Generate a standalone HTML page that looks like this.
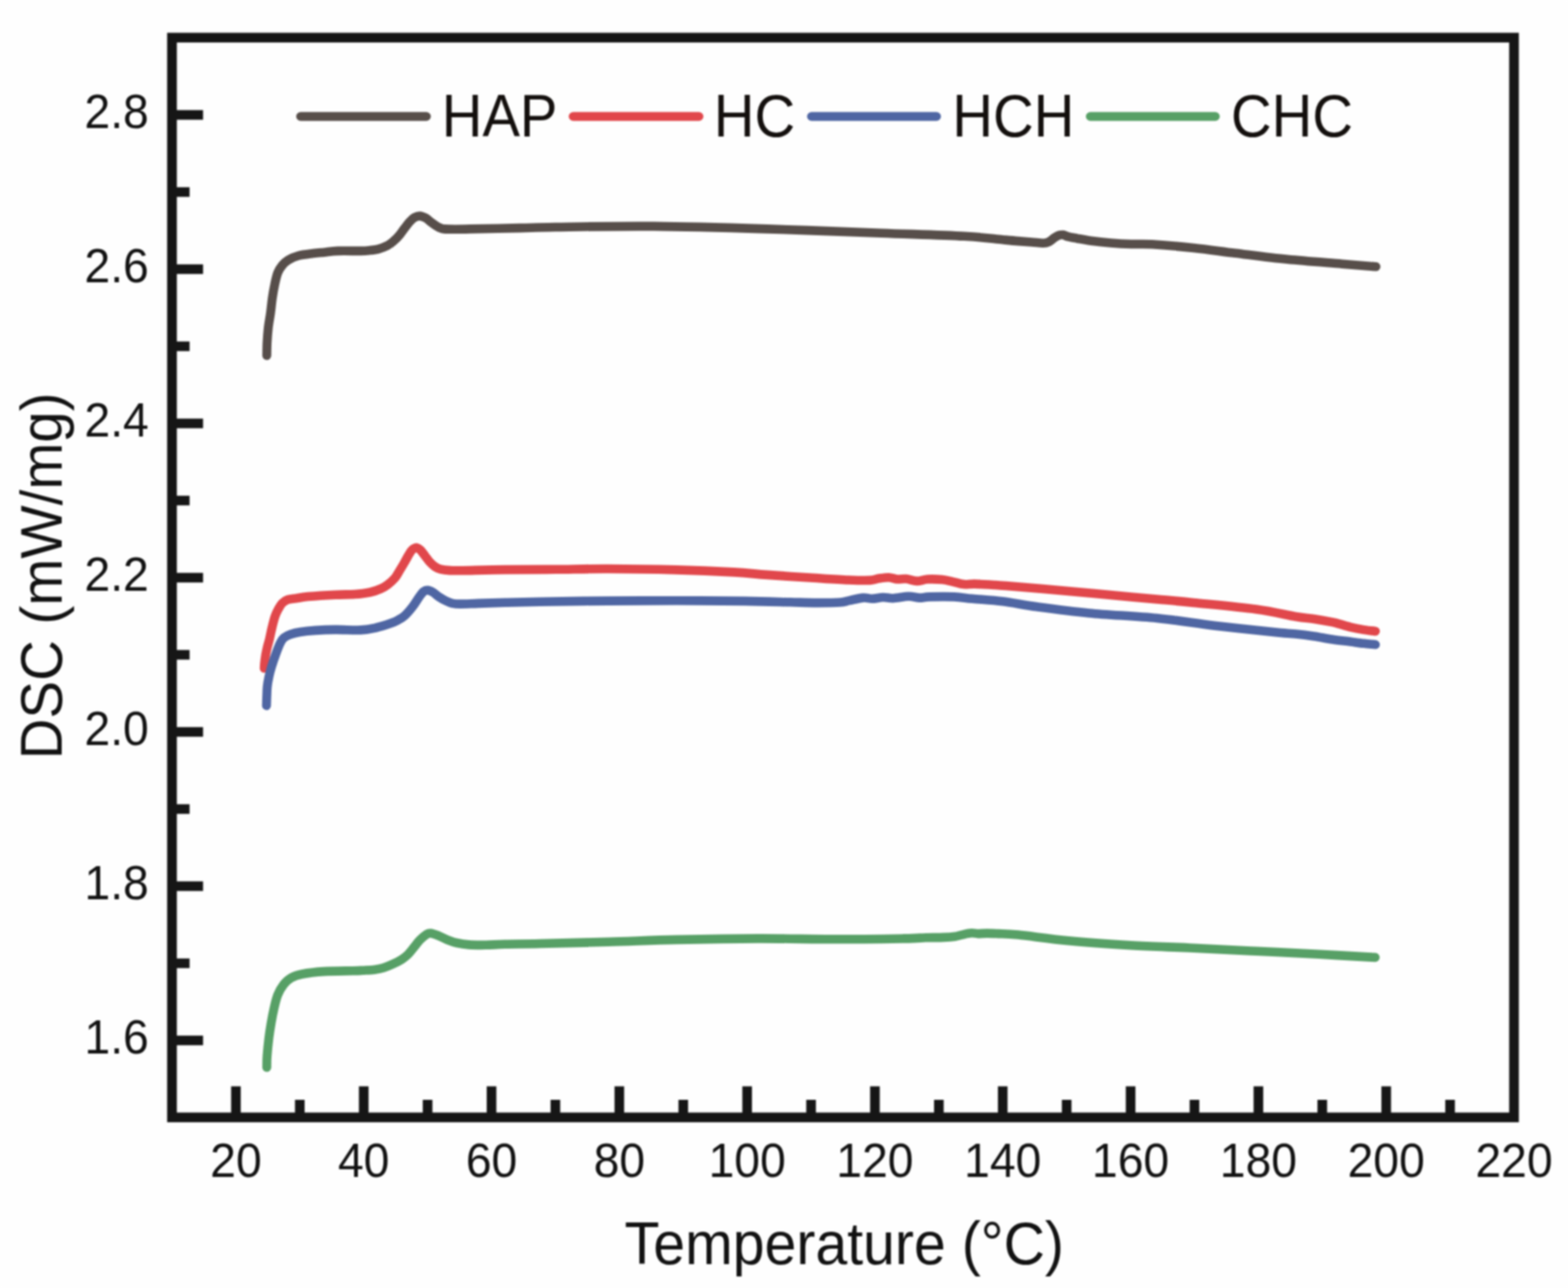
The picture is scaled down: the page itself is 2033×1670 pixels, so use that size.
<!DOCTYPE html>
<html><head><meta charset="utf-8"><title>DSC curves</title>
<style>html,body{margin:0;padding:0;background:#fefefe;}svg{display:block;filter:blur(0.80px);}text{font-family:"Liberation Sans",Arial,sans-serif;fill:#111;}</style>
</head><body>
<svg width="2033" height="1670" viewBox="0 0 2033 1670">
<rect x="0" y="0" width="2033" height="1670" fill="#fefefe"/>
<path d="M228.3,1349.0H263.3 M228.3,1249.0H245.8 M228.3,1149.0H263.3 M228.3,1049.0H245.8 M228.3,949.0H263.3 M228.3,849.0H245.8 M228.3,749.0H263.3 M228.3,649.0H245.8 M228.3,549.0H263.3 M228.3,449.0H245.8 M228.3,349.0H263.3 M228.3,249.0H245.8 M228.3,149.0H263.3 M305.9,1443.5V1408.5 M388.7,1443.5V1426.0 M471.6,1443.5V1408.5 M554.4,1443.5V1426.0 M637.3,1443.5V1408.5 M720.1,1443.5V1426.0 M803.0,1443.5V1408.5 M885.9,1443.5V1426.0 M968.7,1443.5V1408.5 M1051.6,1443.5V1426.0 M1134.4,1443.5V1408.5 M1217.3,1443.5V1426.0 M1300.1,1443.5V1408.5 M1383.0,1443.5V1426.0 M1465.9,1443.5V1408.5 M1548.7,1443.5V1426.0 M1631.6,1443.5V1408.5 M1714.4,1443.5V1426.0 M1797.3,1443.5V1408.5 M1880.1,1443.5V1426.0" stroke="#161616" stroke-width="12.5" fill="none"/>
<rect x="223.0" y="48.8" width="1740.0" height="1400.0" fill="none" stroke="#161616" stroke-width="12.6"/>
<path d="M345.9,461.0 C346.0,458.2 346.0,450.4 346.3,444.5 C346.6,438.6 347.1,431.8 347.8,425.4 C348.5,419.0 349.8,412.6 350.7,406.2 C351.6,399.8 352.1,393.4 353.0,387.0 C353.9,380.6 355.2,373.5 356.4,367.9 C357.6,362.3 358.6,357.5 360.2,353.5 C361.8,349.5 363.8,346.7 366.0,344.0 C368.2,341.3 370.1,339.3 373.6,337.2 C377.1,335.1 381.6,332.9 387.0,331.5 C392.4,330.1 400.7,329.3 406.2,328.6 C411.7,327.9 414.7,327.7 420.0,327.2 C425.3,326.7 430.1,325.7 438.0,325.4 C445.9,325.1 460.6,325.5 467.6,325.4 C474.6,325.3 476.3,325.0 480.0,324.6 C483.7,324.2 486.4,324.1 490.0,323.1 C493.6,322.1 498.4,320.5 501.8,318.7 C505.2,316.9 508.0,314.5 510.7,312.2 C513.4,309.9 515.5,307.8 517.7,305.1 C520.0,302.5 521.9,299.2 524.2,296.3 C526.5,293.4 529.1,289.8 531.3,287.4 C533.5,285.0 535.0,283.3 537.2,282.1 C539.4,280.9 541.8,280.0 544.3,280.1 C546.8,280.2 549.7,281.5 552.0,282.7 C554.3,283.9 555.9,285.9 557.9,287.4 C559.9,288.9 561.8,290.3 563.8,291.6 C565.8,292.9 567.7,294.2 569.7,295.1 C571.7,296.0 572.2,296.5 575.6,296.9 C579.0,297.2 584.7,297.2 590.4,297.2 C596.1,297.2 596.1,297.2 610.0,296.9 C623.9,296.6 655.7,296.0 674.0,295.6 C692.3,295.2 691.1,294.9 720.0,294.5 C748.9,294.1 801.8,293.0 847.6,293.4 C893.4,293.8 945.8,295.4 995.0,296.9 C1044.2,298.4 1100.2,300.6 1142.7,302.2 C1185.2,303.8 1223.8,304.9 1250.0,306.3 C1276.2,307.7 1288.3,309.8 1300.0,310.8 C1311.7,311.9 1313.7,312.1 1320.0,312.6 C1326.3,313.1 1332.3,313.6 1337.7,314.0 C1343.1,314.4 1348.8,315.3 1352.5,315.2 C1356.2,315.1 1357.6,314.6 1360.1,313.4 C1362.5,312.2 1365.0,309.6 1367.2,308.2 C1369.4,306.8 1371.2,305.6 1373.1,305.0 C1375.0,304.4 1376.5,304.3 1378.5,304.6 C1380.5,304.9 1381.9,306.1 1384.9,306.9 C1387.9,307.7 1391.8,308.3 1396.7,309.2 C1401.6,310.1 1407.3,311.2 1414.5,312.2 C1421.7,313.2 1431.3,314.3 1440.0,315.0 C1448.7,315.7 1457.6,316.2 1466.5,316.5 C1475.4,316.8 1480.0,316.0 1493.5,316.8 C1507.0,317.6 1529.6,319.5 1547.6,321.4 C1565.6,323.3 1581.4,325.7 1601.7,328.2 C1622.0,330.7 1646.4,334.0 1669.4,336.3 C1692.5,338.6 1720.9,340.6 1740.0,342.2 C1759.1,343.8 1776.7,345.2 1784.0,345.8" stroke="#574e4a" stroke-width="11.6" fill="none" stroke-linecap="round" stroke-linejoin="round"/>
<path d="M342.6,866.5 C342.7,865.4 342.7,862.8 343.0,860.0 C343.3,857.2 343.8,853.3 344.3,850.0 C344.9,846.7 345.5,843.8 346.3,840.3 C347.1,836.8 348.3,833.1 349.4,828.7 C350.4,824.3 351.4,818.9 352.6,814.0 C353.8,809.1 355.2,803.3 356.6,799.2 C358.0,795.1 359.5,792.2 361.1,789.3 C362.7,786.4 364.0,784.0 366.0,782.0 C368.0,780.0 370.0,778.5 373.0,777.5 C376.0,776.5 379.9,776.4 384.2,775.8 C388.5,775.1 390.5,774.4 399.0,773.6 C407.5,772.9 424.8,771.8 435.0,771.3 C445.2,770.8 452.6,771.0 460.0,770.5 C467.4,770.0 474.0,769.2 479.7,768.0 C485.4,766.8 490.4,764.8 494.2,763.1 C498.0,761.5 499.6,760.4 502.6,758.1 C505.6,755.8 509.4,752.5 512.0,749.5 C514.6,746.5 516.0,743.2 518.0,740.0 C520.0,736.8 522.2,733.2 524.0,730.0 C525.8,726.8 527.5,723.6 529.0,721.0 C530.5,718.4 531.8,716.1 533.0,714.5 C534.2,712.9 535.3,712.0 536.5,711.3 C537.7,710.6 538.9,709.8 540.3,710.1 C541.7,710.4 543.2,711.3 545.0,713.0 C546.8,714.7 548.8,717.9 550.8,720.4 C552.8,722.9 554.5,725.7 556.7,728.1 C558.9,730.5 561.3,732.9 563.8,734.6 C566.3,736.3 568.2,737.3 571.5,738.1 C574.8,738.9 578.5,739.3 583.3,739.6 C588.0,739.9 588.0,739.9 600.0,739.7 C612.0,739.5 635.0,738.8 655.0,738.6 C675.0,738.4 697.8,738.5 720.0,738.3 C742.2,738.1 762.3,737.4 788.5,737.5 C814.7,737.6 850.0,738.2 877.1,738.9 C904.2,739.6 931.2,740.8 950.9,741.9 C970.6,743.0 978.0,744.2 995.2,745.4 C1012.4,746.6 1036.7,748.2 1054.2,749.3 C1071.7,750.4 1087.7,751.5 1100.0,752.0 C1112.3,752.5 1121.5,752.7 1128.0,752.4 C1134.5,752.1 1135.2,750.7 1139.3,750.1 C1143.3,749.5 1148.2,748.6 1152.3,748.7 C1156.3,748.9 1159.8,750.7 1163.6,751.0 C1167.3,751.3 1170.6,750.2 1174.8,750.6 C1179.0,751.0 1184.1,753.3 1188.8,753.4 C1193.5,753.5 1197.3,751.3 1202.8,751.0 C1208.2,750.7 1216.0,751.0 1221.5,751.5 C1227.0,752.0 1230.8,753.3 1235.5,754.3 C1240.2,755.3 1244.8,757.1 1249.5,757.6 C1254.2,758.1 1256.8,757.0 1263.6,757.1 C1270.3,757.2 1282.3,758.0 1290.0,758.5 C1297.7,759.0 1294.1,758.7 1310.0,760.0 C1325.9,761.3 1363.6,764.6 1385.3,766.5 C1407.0,768.4 1420.9,769.8 1440.0,771.5 C1459.1,773.2 1482.1,775.4 1500.0,777.0 C1517.9,778.6 1526.1,779.2 1547.6,781.4 C1569.1,783.6 1606.7,787.0 1628.8,790.0 C1650.9,793.0 1667.5,797.4 1680.0,799.5 C1692.5,801.6 1695.7,801.2 1703.6,802.4 C1711.5,803.6 1721.8,805.5 1727.2,806.6 C1732.6,807.7 1732.2,807.8 1736.1,808.9 C1740.0,810.0 1745.4,811.8 1750.8,813.1 C1756.2,814.4 1763.1,815.7 1768.5,816.6 C1773.9,817.5 1780.8,818.1 1783.3,818.4" stroke="#e1474b" stroke-width="11.6" fill="none" stroke-linecap="round" stroke-linejoin="round"/>
<path d="M345.5,914.9 C345.6,912.9 345.7,907.0 345.9,903.0 C346.1,899.0 346.1,894.8 346.5,890.6 C346.9,886.4 347.7,882.2 348.6,878.0 C349.5,873.8 350.3,870.3 351.8,865.4 C353.3,860.5 355.4,854.0 357.4,848.7 C359.3,843.4 361.7,837.2 363.5,833.5 C365.3,829.8 366.2,828.6 368.4,826.7 C370.6,824.9 373.2,823.6 376.7,822.4 C380.1,821.2 383.8,820.2 389.1,819.4 C394.5,818.6 401.2,817.9 408.8,817.4 C416.4,816.9 425.2,816.5 435.0,816.4 C444.8,816.3 458.9,817.3 467.6,816.9 C476.3,816.5 480.6,815.5 487.2,814.0 C493.8,812.5 502.1,809.7 506.9,808.0 C511.7,806.3 513.0,805.6 516.0,804.0 C519.0,802.4 521.6,801.1 524.8,798.2 C528.0,795.3 532.0,790.5 535.1,786.5 C538.2,782.5 541.1,777.3 543.4,774.1 C545.7,770.9 547.1,768.7 548.9,767.2 C550.7,765.7 552.3,765.1 554.4,765.2 C556.5,765.3 558.8,766.4 561.3,767.9 C563.8,769.4 566.8,772.3 569.5,774.1 C572.2,775.9 574.9,777.5 577.8,778.9 C580.7,780.3 583.5,781.7 586.7,782.4 C589.9,783.1 591.6,783.1 597.1,783.1 C602.6,783.1 610.4,782.7 620.0,782.4 C629.6,782.1 641.7,781.7 655.0,781.3 C668.3,780.9 677.8,780.6 700.0,780.2 C722.2,779.8 759.0,779.3 788.5,779.1 C818.0,778.9 847.6,778.8 877.1,778.8 C906.6,778.8 941.0,779.1 965.6,779.4 C990.2,779.7 1009.0,780.4 1024.7,780.8 C1040.4,781.2 1049.2,781.6 1060.0,781.6 C1070.8,781.6 1082.6,781.5 1089.5,781.0 C1096.4,780.5 1096.4,779.6 1101.3,778.6 C1106.2,777.6 1114.1,775.5 1119.0,775.1 C1123.9,774.7 1126.5,776.4 1130.8,776.3 C1135.1,776.2 1140.5,774.6 1145.0,774.5 C1149.5,774.4 1152.5,775.9 1158.0,775.7 C1163.5,775.5 1172.3,773.4 1178.0,773.3 C1183.7,773.2 1187.7,775.0 1192.2,775.1 C1196.7,775.2 1197.7,774.1 1205.2,773.9 C1212.7,773.7 1227.8,773.5 1237.1,773.9 C1246.3,774.3 1250.2,775.3 1260.7,776.3 C1271.2,777.3 1286.0,778.0 1300.0,779.8 C1314.0,781.5 1326.0,784.3 1344.7,786.8 C1363.4,789.3 1386.4,792.4 1412.3,794.9 C1438.2,797.4 1472.9,798.8 1500.0,801.5 C1527.1,804.2 1548.7,808.1 1574.7,811.2 C1600.7,814.3 1638.2,818.3 1655.8,820.1 C1673.3,821.9 1672.0,821.1 1680.0,821.9 C1688.0,822.7 1695.7,823.7 1703.6,824.9 C1711.5,826.1 1719.3,827.8 1727.2,829.0 C1735.1,830.2 1743.9,831.1 1750.8,832.0 C1757.7,832.9 1763.1,833.7 1768.5,834.3 C1773.9,834.9 1780.8,835.5 1783.3,835.8" stroke="#4f66a3" stroke-width="11.6" fill="none" stroke-linecap="round" stroke-linejoin="round"/>
<path d="M345.9,1384.0 C346.0,1381.5 345.8,1375.7 346.3,1369.3 C346.8,1362.9 347.8,1352.6 348.7,1345.4 C349.6,1338.2 350.5,1332.6 351.6,1326.2 C352.7,1319.8 354.0,1313.1 355.4,1307.0 C356.8,1300.9 358.1,1294.9 360.2,1289.8 C362.3,1284.7 365.0,1280.1 367.9,1276.4 C370.8,1272.7 373.5,1270.0 377.5,1267.8 C381.5,1265.6 384.7,1264.4 391.8,1263.0 C398.9,1261.6 409.0,1260.3 420.0,1259.6 C431.0,1258.9 449.4,1258.9 457.7,1258.7 C466.0,1258.5 465.3,1258.5 470.0,1258.3 C474.7,1258.0 481.1,1257.8 485.7,1257.2 C490.3,1256.6 493.6,1256.0 497.5,1254.8 C501.4,1253.6 505.4,1251.9 509.3,1250.1 C513.2,1248.3 517.8,1245.9 521.1,1243.8 C524.4,1241.7 526.4,1240.1 529.0,1237.5 C531.6,1234.9 534.3,1231.2 536.9,1228.0 C539.5,1224.8 542.1,1221.3 544.7,1218.6 C547.3,1215.9 550.4,1213.3 552.6,1211.9 C554.8,1210.5 555.5,1209.8 558.1,1210.0 C560.7,1210.2 564.6,1211.7 568.3,1213.1 C572.0,1214.5 576.1,1217.0 580.1,1218.6 C584.1,1220.2 587.4,1221.5 592.0,1222.5 C596.6,1223.5 601.4,1224.4 607.7,1224.9 C614.0,1225.4 622.2,1225.4 630.0,1225.3 C637.8,1225.2 642.8,1224.5 654.5,1224.2 C666.2,1223.9 677.7,1224.0 700.0,1223.5 C722.3,1223.0 759.0,1222.1 788.5,1221.3 C818.0,1220.5 844.6,1219.1 877.1,1218.4 C909.6,1217.7 949.0,1217.0 983.4,1216.9 C1017.8,1216.8 1052.2,1217.8 1083.7,1217.8 C1115.2,1217.8 1152.9,1217.2 1172.3,1216.9 C1191.7,1216.6 1191.5,1216.0 1200.0,1215.7 C1208.5,1215.5 1217.2,1215.7 1223.6,1215.4 C1230.0,1215.2 1234.5,1214.8 1238.4,1214.2 C1242.3,1213.7 1243.8,1212.8 1247.2,1212.1 C1250.6,1211.4 1255.5,1210.0 1259.0,1209.8 C1262.5,1209.5 1264.5,1210.5 1267.9,1210.6 C1271.4,1210.6 1275.3,1210.1 1279.7,1210.1 C1284.1,1210.1 1287.8,1210.3 1294.5,1210.6 C1301.2,1210.9 1304.9,1210.6 1320.0,1212.1 C1335.1,1213.6 1360.9,1217.5 1385.3,1219.8 C1409.7,1222.1 1439.5,1224.1 1466.5,1225.7 C1493.5,1227.3 1520.5,1227.9 1547.6,1229.2 C1574.6,1230.5 1601.7,1232.0 1628.8,1233.3 C1655.9,1234.6 1684.3,1235.9 1710.0,1237.3 C1735.7,1238.7 1770.8,1240.7 1783.0,1241.4" stroke="#57a066" stroke-width="11.6" fill="none" stroke-linecap="round" stroke-linejoin="round"/>
<text transform="translate(193,1366.4) scale(1,1.045)" font-size="60" text-anchor="end">1.6</text>
<text transform="translate(193,1166.4) scale(1,1.045)" font-size="60" text-anchor="end">1.8</text>
<text transform="translate(193,966.4) scale(1,1.045)" font-size="60" text-anchor="end">2.0</text>
<text transform="translate(193,766.4) scale(1,1.045)" font-size="60" text-anchor="end">2.2</text>
<text transform="translate(193,566.4) scale(1,1.045)" font-size="60" text-anchor="end">2.4</text>
<text transform="translate(193,366.4) scale(1,1.045)" font-size="60" text-anchor="end">2.6</text>
<text transform="translate(193,166.4) scale(1,1.045)" font-size="60" text-anchor="end">2.8</text>
<text transform="translate(305.9,1526.0) scale(1,1.045)" font-size="60" text-anchor="middle">20</text>
<text transform="translate(471.6,1526.0) scale(1,1.045)" font-size="60" text-anchor="middle">40</text>
<text transform="translate(637.3,1526.0) scale(1,1.045)" font-size="60" text-anchor="middle">60</text>
<text transform="translate(803.0,1526.0) scale(1,1.045)" font-size="60" text-anchor="middle">80</text>
<text transform="translate(968.7,1526.0) scale(1,1.045)" font-size="60" text-anchor="middle">100</text>
<text transform="translate(1134.4,1526.0) scale(1,1.045)" font-size="60" text-anchor="middle">120</text>
<text transform="translate(1300.1,1526.0) scale(1,1.045)" font-size="60" text-anchor="middle">140</text>
<text transform="translate(1465.9,1526.0) scale(1,1.045)" font-size="60" text-anchor="middle">160</text>
<text transform="translate(1631.6,1526.0) scale(1,1.045)" font-size="60" text-anchor="middle">180</text>
<text transform="translate(1797.3,1526.0) scale(1,1.045)" font-size="60" text-anchor="middle">200</text>
<text transform="translate(1963.0,1526.0) scale(1,1.045)" font-size="60" text-anchor="middle">220</text>
<text transform="translate(809.8,1638.6) scale(1,1.045)" font-size="74.2">Temperature (°C)</text>
<text transform="translate(79.7,984.5) rotate(-90) scale(1,1.045)" font-size="73.2">DSC (mW/mg)</text>
<line x1="389.8" y1="151.0" x2="552.8" y2="151.0" stroke="#574e4a" stroke-width="11.6" stroke-linecap="round"/>
<text transform="translate(572.7,176.9) scale(1,1.060)" font-size="73" style="fill:#130f0d">HAP</text>
<line x1="743.2" y1="151.0" x2="906.2" y2="151.0" stroke="#e1474b" stroke-width="11.6" stroke-linecap="round"/>
<text transform="translate(925.6,176.9) scale(1,1.060)" font-size="73" style="fill:#130f0d">HC</text>
<line x1="1052.2" y1="151.0" x2="1214.2" y2="151.0" stroke="#4f66a3" stroke-width="11.6" stroke-linecap="round"/>
<text transform="translate(1234.8,176.9) scale(1,1.060)" font-size="73" style="fill:#130f0d">HCH</text>
<line x1="1413.7" y1="151.0" x2="1575.7" y2="151.0" stroke="#57a066" stroke-width="11.6" stroke-linecap="round"/>
<text transform="translate(1596.0,176.9) scale(1,1.060)" font-size="73" style="fill:#130f0d">CHC</text>
</svg>
</body></html>
